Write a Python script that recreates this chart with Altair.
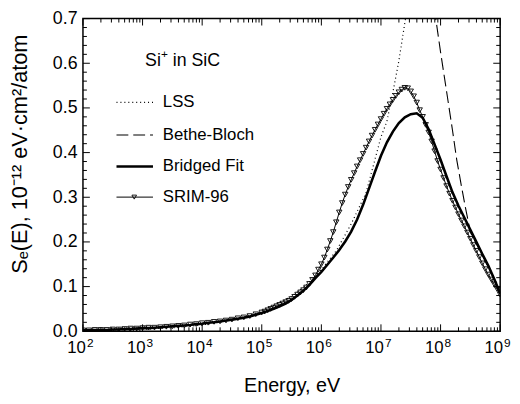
import altair as alt
import pandas as pd
import numpy as np

W, H = 423, 317
FONT = "Liberation Sans"

# ---------------- data ----------------
# SRIM-96 (triangles): exponent grid of energy (eV = 10**exp)
srim_exp = [round(float(v), 2) for v in np.arange(2.0, 4.95, 0.1)] + \
           [round(float(v), 2) for v in np.arange(5.0, 9.001, 0.05)]
srim_val = [
    0.002, 0.002, 0.003, 0.003, 0.003, 0.004, 0.004, 0.005, 0.006, 0.006,
    0.007, 0.008, 0.008, 0.009, 0.010, 0.011, 0.012, 0.013, 0.015, 0.016,
    0.018, 0.019, 0.021, 0.022, 0.024, 0.026, 0.029, 0.031, 0.034, 0.038,
    0.042, 0.044, 0.047, 0.050, 0.053, 0.056, 0.059, 0.062, 0.065, 0.068,
    0.072, 0.077, 0.082, 0.087, 0.092, 0.098, 0.106, 0.115, 0.125, 0.138,
    0.150, 0.165, 0.183, 0.202, 0.222, 0.244, 0.266, 0.287, 0.306, 0.323,
    0.339, 0.354, 0.369, 0.383, 0.397, 0.411, 0.425, 0.438, 0.451, 0.463,
    0.475, 0.487, 0.498, 0.508, 0.518, 0.527, 0.535, 0.541, 0.545, 0.544,
    0.537, 0.526, 0.512, 0.495, 0.480, 0.462, 0.445, 0.425, 0.403, 0.381,
    0.362, 0.343, 0.325, 0.308, 0.292, 0.277, 0.262, 0.248, 0.235, 0.221,
    0.207, 0.193, 0.180, 0.166, 0.152, 0.139, 0.127, 0.116, 0.105, 0.094,
    0.082,
]

# Bridged fit (thick solid)
fit_exp = [round(float(v), 1) for v in np.arange(2.0, 9.01, 0.1)]
fit_val = [
    0.002, 0.002, 0.003, 0.003, 0.003, 0.004, 0.004, 0.005, 0.005, 0.006,
    0.007, 0.007, 0.008, 0.009, 0.010, 0.011, 0.012, 0.013, 0.014, 0.016,
    0.017, 0.019, 0.020, 0.022, 0.024, 0.026, 0.028, 0.030, 0.033, 0.037,
    0.041, 0.045, 0.050, 0.056, 0.062, 0.070, 0.080, 0.091, 0.104, 0.119,
    0.133, 0.149, 0.165, 0.182, 0.201, 0.223, 0.250, 0.283, 0.320, 0.357,
    0.393, 0.423, 0.447, 0.466, 0.479, 0.486, 0.488, 0.478, 0.452, 0.418,
    0.384, 0.347, 0.311, 0.281, 0.254, 0.227, 0.200, 0.173, 0.147, 0.117,
    0.085,
]

# LSS (dotted)
lss_exp = [2.0, 2.5, 3.0, 3.5, 4.0, 4.5, 5.0, 5.5, 5.75, 6.0, 6.25, 6.5,
           6.75, 7.0, 7.1, 7.2, 7.3, 7.4, 7.5]
lss_val = [0.0014, 0.0025, 0.0044, 0.0078, 0.014, 0.025, 0.044, 0.078, 0.104,
           0.138, 0.180, 0.240, 0.310, 0.435, 0.470, 0.535, 0.605, 0.690, 0.770]

# Bethe-Bloch (dashed)
bb_exp = [7.85, 7.93, 8.0, 8.11, 8.2, 8.27, 8.35, 8.42, 8.5, 8.6, 8.7, 8.8, 8.9, 9.0]
bb_val = [0.76, 0.69, 0.625, 0.529, 0.45, 0.385, 0.325, 0.275, 0.222, 0.196,
          0.170, 0.144, 0.116, 0.083]

# axis ticks
x_major_exp = [2, 3, 4, 5, 6, 7, 8, 9]
x_minor_mult = [2, 3, 4, 5, 6, 7, 8, 9]
y_major = [0.0, 0.1, 0.2, 0.3, 0.4, 0.5, 0.6, 0.7]
y_minor = [0.02, 0.04, 0.06, 0.08, 0.12, 0.14, 0.16, 0.18, 0.22, 0.24, 0.26, 0.28,
           0.32, 0.34, 0.36, 0.38, 0.42, 0.44, 0.46, 0.48, 0.52, 0.54, 0.56, 0.58,
           0.62, 0.64, 0.66, 0.68]

# ---------------- tables ----------------
srim = pd.DataFrame({"E": [10 ** e for e in srim_exp], "v": srim_val})
fit = pd.DataFrame({"E": [10 ** e for e in fit_exp], "v": fit_val})
lss = pd.DataFrame({"E": [10 ** e for e in lss_exp], "v": lss_val})
bb = pd.DataFrame({"E": [10 ** e for e in bb_exp], "v": bb_val})

xmaj = pd.DataFrame({"E": [10.0 ** k for k in x_major_exp],
                     "base": ["10"] * len(x_major_exp),
                     "sup": [str(k) for k in x_major_exp]})
xmin = pd.DataFrame({"E": [m * 10.0 ** k for k in x_major_exp[:-1] for m in x_minor_mult]})
ymaj = pd.DataFrame({"v": y_major})
ymin = pd.DataFrame({"v": y_minor})

xs = alt.Scale(type="log", domain=[1e2, 1e9], nice=False)
ys = alt.Scale(domain=[0, 0.7], nice=False, zero=False)

X = lambda: alt.X("E:Q", scale=xs, axis=None)
Y = lambda: alt.Y("v:Q", scale=ys, axis=None)

# main layer carrying the axes
fit_line = alt.Chart(fit).mark_line(color="black", strokeWidth=2.6, clip=True).encode(
    x=alt.X("E:Q", scale=xs,
            axis=alt.Axis(labels=False, ticks=False, domain=False, grid=False,
                          title="Energy, eV", titleFont=FONT, titleFontSize=20,
                          titleFontWeight="normal", titleColor="black",
                          titleY=61, titleBaseline="alphabetic")),
    y=alt.Y("v:Q", scale=ys,
            axis=alt.Axis(values=y_major, format=".1f", ticks=False, domain=False,
                          grid=False, labelFont=FONT, labelFontSize=18,
                          labelColor="black", labelPadding=6,
                          title="Sₑ(E), 10⁻¹² eV·cm²/atom", titleFont=FONT,
                          titleFontSize=22, titleFontWeight="normal",
                          titleColor="black", titleAngle=270, titleX=-57,
                          titleY=137, titleAlign="center",
                          titleBaseline="alphabetic")),
)

lss_line = alt.Chart(lss).mark_line(color="black", strokeWidth=1.2,
                                    strokeDash=[1, 3], clip=True).encode(x=X(), y=Y())
bb_line = alt.Chart(bb).mark_line(color="black", strokeWidth=1.1,
                                  strokeDash=[12, 5], clip=True).encode(x=X(), y=Y())
srim_line = alt.Chart(srim).mark_line(color="black", strokeWidth=1.0, clip=True).encode(x=X(), y=Y())
srim_pts = alt.Chart(srim).mark_point(shape="triangle-down", size=30, filled=False,
                                      color="black", opacity=1, strokeWidth=0.9,
                                      clip=True).encode(x=X(), y=Y())

# inward ticks on four sides
tk = dict(color="black", strokeWidth=1)
xb_maj = alt.Chart(xmaj).mark_rule(**tk).encode(x=X(), y=alt.value(H), y2=alt.value(H - 7))
xt_maj = alt.Chart(xmaj).mark_rule(**tk).encode(x=X(), y=alt.value(0), y2=alt.value(7))
xb_min = alt.Chart(xmin).mark_rule(**tk).encode(x=X(), y=alt.value(H), y2=alt.value(H - 4))
xt_min = alt.Chart(xmin).mark_rule(**tk).encode(x=X(), y=alt.value(0), y2=alt.value(4))
yl_maj = alt.Chart(ymaj).mark_rule(**tk).encode(y=Y(), x=alt.value(0), x2=alt.value(7))
yr_maj = alt.Chart(ymaj).mark_rule(**tk).encode(y=Y(), x=alt.value(W), x2=alt.value(W - 7))
yl_min = alt.Chart(ymin).mark_rule(**tk).encode(y=Y(), x=alt.value(0), x2=alt.value(4))
yr_min = alt.Chart(ymin).mark_rule(**tk).encode(y=Y(), x=alt.value(W), x2=alt.value(W - 4))

# x tick labels 10^k
xlab_base = alt.Chart(xmaj).mark_text(font=FONT, fontSize=17, align="right",
                                      baseline="alphabetic", dx=3, color="black").encode(
    x=X(), y=alt.value(H + 22), text="base:N")
xlab_sup = alt.Chart(xmaj).mark_text(font=FONT, fontSize=12, align="left",
                                     baseline="alphabetic", dx=4, color="black").encode(
    x=X(), y=alt.value(H + 16), text="sup:N")

# legend (drawn inside the plot)
one = pd.DataFrame({"a": [0]})
def txt(s, x, y, size=17, align="left"):
    return alt.Chart(one).mark_text(font=FONT, fontSize=size, align=align,
                                    baseline="middle", color="black").encode(
        x=alt.value(x), y=alt.value(y), text=alt.value(s))

def sample(y, **kw):
    return alt.Chart(one).mark_rule(color="black", **kw).encode(
        x=alt.value(34), x2=alt.value(71), y=alt.value(y))

leg = [
    txt("Si", 63, 43, 18),
    txt("+", 79, 36, 12),
    txt("in SiC", 91, 43, 18),
    sample(85, strokeWidth=1.2, strokeDash=[1, 3]), txt("LSS", 81, 85),
    sample(118, strokeWidth=1.1, strokeDash=[12, 5]), txt("Bethe-Bloch", 81, 118),
    sample(150, strokeWidth=2.6), txt("Bridged Fit", 81, 150),
    sample(181, strokeWidth=1.0), txt("SRIM-96", 81, 181),
    alt.Chart(one).mark_point(shape="triangle-down", size=22, filled=False, color="black",
                              opacity=1, strokeWidth=0.9).encode(x=alt.value(52), y=alt.value(181)),
]

chart = alt.layer(
    fit_line, lss_line, bb_line, srim_line, srim_pts,
    xb_maj, xt_maj, xb_min, xt_min, yl_maj, yr_maj, yl_min, yr_min,
    xlab_base, xlab_sup, *leg,
).resolve_axis(x="independent", y="independent").properties(
    width=W, height=H,
    autosize=alt.AutoSizeParams(type="none"),
    padding={"left": 76, "top": 8, "right": 12, "bottom": 70},
).configure_view(stroke="black", strokeWidth=1.5)

chart.save("out.html", embed_options={"renderer": "svg", "actions": False})
